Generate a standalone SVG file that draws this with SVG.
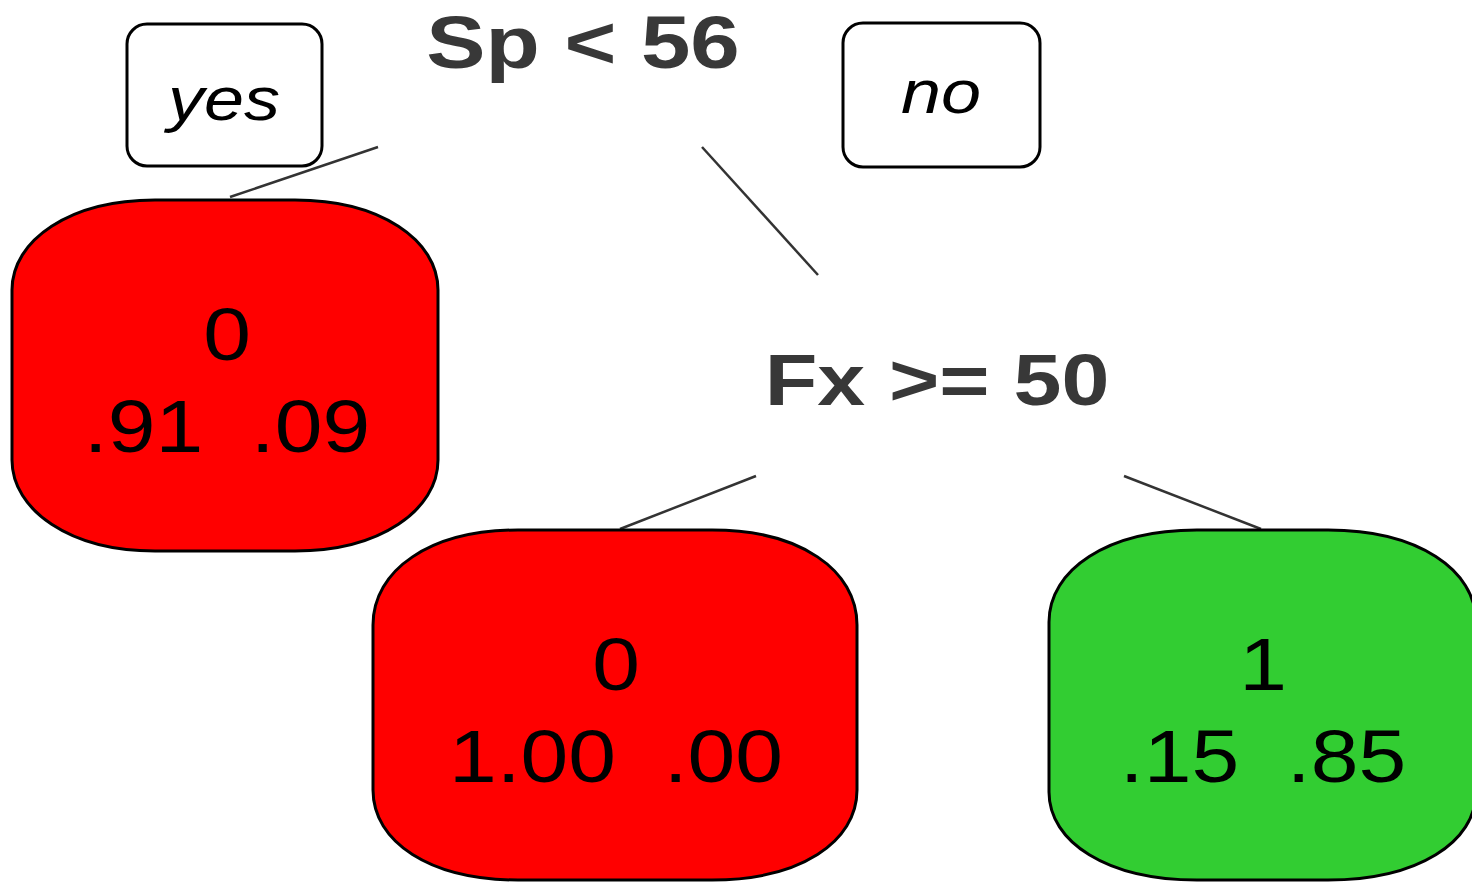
<svg xmlns="http://www.w3.org/2000/svg" width="1472" height="882" viewBox="0 0 1472 882">
<style>
.lbl{font-family:"Liberation Sans",Arial,sans-serif;fill:#000;text-anchor:middle;white-space:pre}
.leaf{font-size:74px}
.split{font-size:74px;font-weight:bold;fill:#383838}
.yn{font-size:61px;font-style:italic}
.box{fill:#fff;stroke:#000;stroke-width:3}
.leafbox{stroke:#000;stroke-width:3}
.red{fill:#ff0000}
.green{fill:#32cd32}
.edge{stroke:#333;stroke-width:2.5;fill:none}
</style>
<rect width="1472" height="882" fill="#fff"/>
<g id="connectors">
<line class="edge" x1="230" y1="197" x2="378" y2="147"/>
<line class="edge" x1="702" y1="147" x2="818" y2="275"/>
<line class="edge" x1="756" y1="476" x2="620" y2="529"/>
<line class="edge" x1="1124" y1="476" x2="1261" y2="529"/>
</g>
<g id="yes">
<rect class="box" x="127" y="24" width="195" height="142" rx="20"/>
<g transform="translate(224,120) scale(1.18,1)"><text class="lbl yn" x="0" y="0">yes</text></g>
</g>
<g id="no">
<rect class="box" x="843" y="23" width="197" height="144" rx="20"/>
<g transform="translate(941,113) scale(1.18,1)"><text class="lbl yn" x="0" y="0">no</text></g>
</g>
<g id="split1">
<g transform="translate(583,68) scale(1.2,1)"><text class="lbl split" x="0" y="0">Sp &lt; 56</text></g>
</g>
<g id="split2">
<g transform="translate(937,405) scale(1.18,1)"><text class="lbl split" x="0" y="0" style="font-size:73px">Fx &gt;= 50</text></g>
</g>
<g id="leaf1">
<path class="leafbox red" d="M155,200 L295,200 C380,200 438,240 438,290 L438,460 C438,510 380,551 295,551 L155,551 C70,551 12,510 12,460 L12,290 C12,240 70,200 155,200 Z"/>
<g transform="translate(227,360) scale(1.16,1)"><text class="lbl leaf" x="0" y="0">0</text></g>
<g transform="translate(227,452) scale(1.16,1)"><text class="lbl leaf" x="0" y="0">.91  .09</text></g>
</g>
<g id="leaf2">
<path class="leafbox red" d="M518,530 L712,530 C800,530 857,570 857,625 L857,790 C857,842 800,880 712,880 L518,880 C430,880 373,842 373,790 L373,625 C373,570 430,530 518,530 Z"/>
<g transform="translate(616,690) scale(1.16,1)"><text class="lbl leaf" x="0" y="0">0</text></g>
<g transform="translate(616,782) scale(1.16,1)"><text class="lbl leaf" x="0" y="0">1.00  .00</text></g>
</g>
<g id="leaf3">
<path class="leafbox green" d="M1197,530 L1328,530 C1418,530 1476,570 1476,622 L1476,792 C1476,842 1418,880 1328,880 L1197,880 C1107,880 1049,842 1049,792 L1049,622 C1049,570 1107,530 1197,530 Z"/>
<g transform="translate(1263,690) scale(1.16,1)"><text class="lbl leaf" x="0" y="0">1</text></g>
<g transform="translate(1263,782) scale(1.16,1)"><text class="lbl leaf" x="0" y="0">.15  .85</text></g>
</g>
</svg>
